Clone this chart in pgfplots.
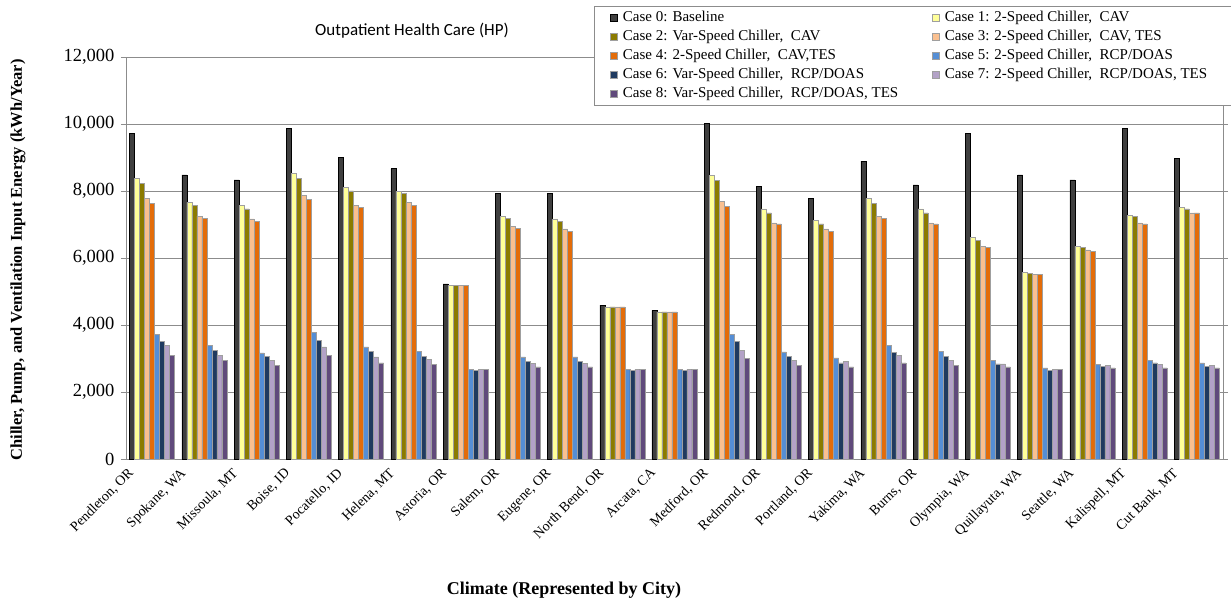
\documentclass[border=0pt]{standalone}
\usepackage{pgfplots}
\pgfplotsset{compat=1.18}
\usepackage{pgfplotstable}
\usepackage{fontspec}
\setmainfont{Liberation Serif}
\newfontfamily\calibri{Carlito}

\definecolor{c0}{HTML}{3F3F3F}
\definecolor{c1}{HTML}{FFFF99}
\definecolor{c2}{HTML}{8B7B00}
\definecolor{c3}{HTML}{FAC090}
\definecolor{c4}{HTML}{E36C09}
\definecolor{c5}{HTML}{558ED5}
\definecolor{c6}{HTML}{1F3A5F}
\definecolor{c7}{HTML}{B3A2C7}
\definecolor{c8}{HTML}{604A7B}
\definecolor{gridgray}{HTML}{8C8C8C}

\pgfplotstableread{
x  c0    c1   c2   c3   c4   c5   c6   c7   c8
0  9720  8370 8220 7770 7620 3720 3520 3390 3100
1  8480  7660 7580 7250 7180 3390 3250 3090 2950
2  8330  7580 7470 7170 7100 3170 3060 2950 2790
3  9870  8520 8370 7880 7740 3770 3550 3350 3100
4  9000  8100 8000 7580 7510 3350 3220 3050 2870
5  8670  7990 7920 7650 7580 3210 3060 2970 2820
6  5230  5190 5190 5190 5190 2680 2650 2680 2680
7  7920  7240 7180 6950 6880 3050 2920 2860 2750
8  7920  7170 7090 6870 6790 3050 2920 2860 2750
9  4590  4540 4540 4540 4540 2680 2650 2680 2680
10 4440  4390 4390 4390 4390 2680 2650 2680 2680
11 10020 8470 8320 7700 7550 3720 3510 3240 3010
12 8140  7470 7350 7050 7020 3200 3060 2940 2790
13 7770  7130 7020 6870 6790 3020 2870 2910 2750
14 8890  7770 7620 7250 7180 3390 3180 3090 2870
15 8180  7470 7350 7050 7020 3210 3060 2940 2790
16 9720  6610 6530 6350 6310 2950 2840 2840 2750
17 8480  5560 5550 5520 5520 2720 2650 2680 2680
18 8330  6350 6310 6240 6190 2830 2760 2790 2720
19 9870  7280 7240 7050 7020 2950 2870 2820 2720
20 8980  7510 7470 7350 7350 2870 2760 2790 2720
}\datatable

\pgfplotsset{
  mybar/.style={fill=#1, draw=gray!75, line width=0.5pt,
    legend image code/.code={\draw[##1, line width=0.6pt] (0pt,-3.5pt) rectangle (7pt,3.5pt);}},
}

\begin{document}
\begin{tikzpicture}
\path[use as bounding box] (0,0) rectangle (1231pt,605pt);
\begin{axis}[
  at={(126pt,146pt)}, anchor=south west,
  scale only axis, width=1097pt, height=402pt,
  ybar=0pt, bar width=0.0957,
  xmin=-0.5, xmax=20.5, ymin=0, ymax=12000,
  ytick={0,2000,...,12000},
  xtick={0,...,20},
  xticklabels={{Pendleton, OR},{Spokane, WA},{Missoula, MT},{Boise, ID},{Pocatello, ID},{Helena, MT},{Astoria, OR},{Salem, OR},{Eugene, OR},{North Bend, OR},{Arcata, CA},{Medford, OR},{Redmond, OR},{Portland, OR},{Yakima, WA},{Burns, OR},{Olympia, WA},{Quillayuta, WA},{Seattle, WA},{Kalispell, MT},{Cut Bank, MT}},
  xticklabel style={xshift=-25pt, rotate=45, anchor=north east, font=\fontsize{14}{17}\selectfont, inner sep=2pt},
  yticklabel style={font=\fontsize{18.5}{21}\selectfont, xshift=-3pt},
  xtick style={draw=none},
  minor xtick={-0.5,0.5,...,20.5},
  minor x tick style={gridgray, line width=0.8pt},
  ytick style={gridgray, line width=0.8pt},
  tick align=outside,
  major tick length=5pt, minor tick length=5pt,
  ymajorgrids, major grid style={gridgray, line width=0.8pt},
  axis line style={gridgray, line width=0.8pt},
  scaled y ticks=false,
  /pgf/number format/1000 sep={,},
  /pgf/number format/assume math mode=true,
  title={Outpatient Health Care (HP)},
  title style={font=\calibri\fontsize{17}{20}\selectfont, at={(rel axis cs:0.2607,1.05)}, anchor=center},
  xlabel={Climate (Represented by City)},
  xlabel style={font=\bfseries\fontsize{18}{21}\selectfont, at={(rel axis cs:0.3993,-0.3259)}, anchor=center},
  ylabel={Chiller, Pump, and Ventilation Input Energy (kWh/Year)},
  ylabel style={font=\bfseries\fontsize{16.5}{20}\selectfont, at={(rel axis cs:-0.0985,0.495)}, anchor=center},
  legend columns=2,
  legend cell align=left,
  legend style={at={(rel axis cs:0.4266,1.1269)}, anchor=north west, draw=gridgray, line width=0.8pt, fill=white,
    font=\fontsize{15}{18}\selectfont, inner xsep=16pt,
    nodes={text height=10.5pt, text depth=3pt, inner ysep=2.75pt},
    /tikz/every odd column/.append style={column sep=3pt},
    /tikz/every even column/.append style={column sep=32pt}},
]
\addplot[mybar=c0, draw=black] table[x=x, y=c0] {\datatable};
\addlegendentry{Case 0: Baseline}
\addplot[mybar=c1] table[x=x, y=c1] {\datatable};
\addlegendentry{Case 1: 2-Speed Chiller, \ CAV}
\addplot[mybar=c2] table[x=x, y=c2] {\datatable};
\addlegendentry{Case 2: Var-Speed Chiller, \ CAV}
\addplot[mybar=c3] table[x=x, y=c3] {\datatable};
\addlegendentry{Case 3: 2-Speed Chiller, \ CAV, TES}
\addplot[mybar=c4] table[x=x, y=c4] {\datatable};
\addlegendentry{Case 4: 2-Speed Chiller, \ CAV,TES}
\addplot[mybar=c5] table[x=x, y=c5] {\datatable};
\addlegendentry{Case 5: 2-Speed Chiller, \ RCP/DOAS}
\addplot[mybar=c6] table[x=x, y=c6] {\datatable};
\addlegendentry{Case 6: Var-Speed Chiller, \ RCP/DOAS}
\addplot[mybar=c7] table[x=x, y=c7] {\datatable};
\addlegendentry{Case 7: 2-Speed Chiller, \ RCP/DOAS, TES\hspace*{20pt}}
\addplot[mybar=c8] table[x=x, y=c8] {\datatable};
\addlegendentry{Case 8: Var-Speed Chiller, \ RCP/DOAS, TES}
\end{axis}
\end{tikzpicture}
\end{document}
